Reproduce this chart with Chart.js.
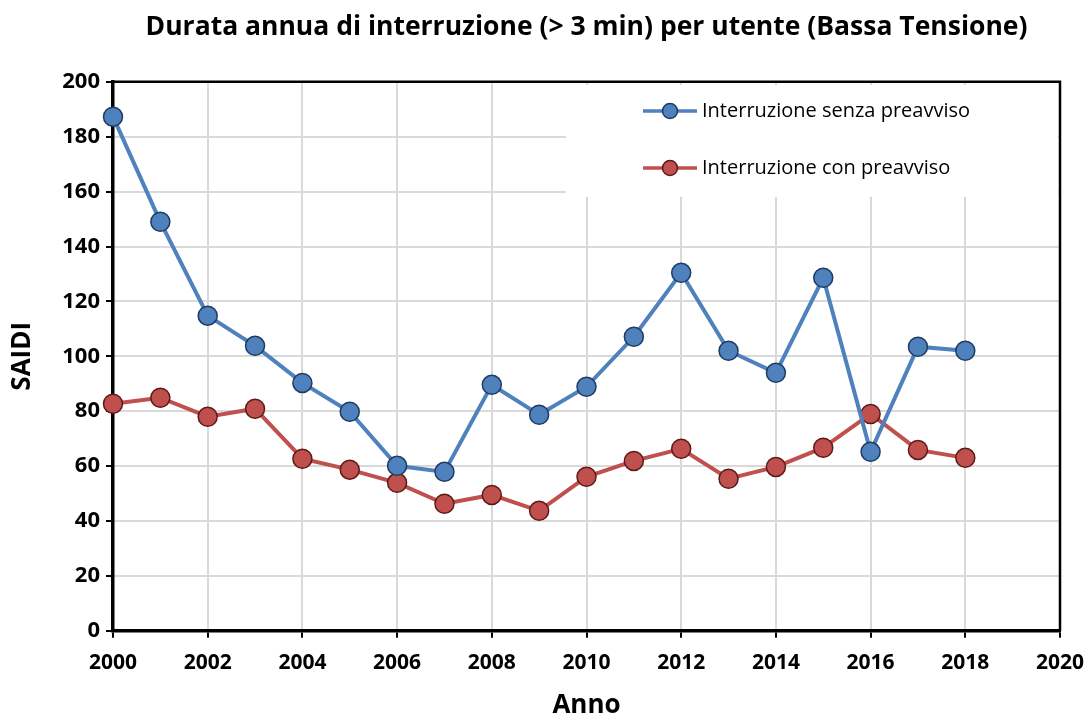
<!DOCTYPE html>
<html lang="it">
<head>
  <meta charset="UTF-8">
  <title>SAIDI Bassa Tensione</title>
  <style>
    body { margin: 0; background: #fff; }
    .wrap { width: 1090px; height: 715px; }
  </style>
  <script src="https://cdn.jsdelivr.net/npm/chart.js"></script>
</head>
<body>
  <div class="wrap"><canvas id="saidiChart" width="1090" height="715"></canvas></div>
  <script>
    // data
    const years = [2000, 2001, 2002, 2003, 2004, 2005, 2006, 2007, 2008, 2009,
                   2010, 2011, 2012, 2013, 2014, 2015, 2016, 2017, 2018];
    const senzaPreavviso = [187.3, 149, 114.8, 103.8, 90.3, 79.8, 60.1, 57.9, 89.6, 78.7,
                            88.9, 107.1, 130.4, 102, 94, 128.6, 65.2, 103.5, 102];
    const conPreavviso = [82.7, 84.9, 78, 80.9, 62.7, 58.7, 53.9, 46.3, 49.5, 43.7,
                          56.1, 61.9, 66.3, 55.4, 59.7, 66.7, 79, 65.9, 63];
    const seriesNames = ['Interruzione senza preavviso', 'Interruzione con preavviso'];

    const font = "'Open Sans', sans-serif";

    function toPoints(vals) {
      return years.map((y, i) => ({ x: y, y: vals[i] }));
    }

    // frame + legend box drawn on top of the grid
    const framePlugin = {
      id: 'frame',
      afterDatasetsDraw(chart) {
        const ctx = chart.ctx;
        const a = chart.chartArea;
        ctx.save();
        // legend box
        ctx.fillStyle = '#fff';
        ctx.fillRect(566, a.top + 3, a.right - 568, 112);
        chart.data.datasets.forEach((ds, i) => {
          const y = 111 + i * 57;
          ctx.strokeStyle = ds.borderColor;
          ctx.lineWidth = 3.5;
          ctx.beginPath();
          ctx.moveTo(643, y);
          ctx.lineTo(697, y);
          ctx.stroke();
          ctx.beginPath();
          ctx.arc(670, y, 7.5, 0, Math.PI * 2);
          ctx.fillStyle = ds.pointBackgroundColor;
          ctx.fill();
          ctx.lineWidth = 1.5;
          ctx.strokeStyle = ds.pointBorderColor;
          ctx.stroke();
          ctx.fillStyle = '#000';
          ctx.font = "20px " + font;
          ctx.textBaseline = 'middle';
          ctx.fillText(ds.label, 702, y);
        });
        // top and right border
        ctx.strokeStyle = '#000';
        ctx.lineWidth = 2.5;
        ctx.beginPath();
        ctx.moveTo(a.left, a.top);
        ctx.lineTo(a.right, a.top);
        ctx.lineTo(a.right, a.bottom);
        ctx.stroke();
        ctx.restore();
      }
    };

    new Chart(document.getElementById('saidiChart'), {
      type: 'line',
      data: {
        datasets: [{
          label: seriesNames[0],
          data: toPoints(senzaPreavviso),
          borderColor: '#4f81bd',
          borderWidth: 4,
          pointBackgroundColor: '#4f81bd',
          pointBorderColor: '#1f3b63',
          pointBorderWidth: 1.5,
          pointRadius: 9.5,
          tension: 0
        }, {
          label: seriesNames[1],
          data: toPoints(conPreavviso),
          borderColor: '#c0504d',
          borderWidth: 4,
          pointBackgroundColor: '#c0504d',
          pointBorderColor: '#5e1a18',
          pointBorderWidth: 1.5,
          pointRadius: 9.5,
          tension: 0
        }]
      },
      options: {
        responsive: false,
        animation: false,
        clip: false,
        layout: { padding: { top: 12, right: 30, left: 10, bottom: -4 } },
        plugins: {
          legend: { display: false },
          tooltip: { enabled: false },
          title: {
            display: true,
            fullSize: false,
            text: 'Durata annua di interruzione (> 3 min) per utente (Bassa Tensione)',
            color: '#000',
            font: { family: font, size: 26.5, weight: 'bold' },
            padding: { top: 0, bottom: 38 }
          }
        },
        scales: {
          x: {
            type: 'linear',
            min: 2000,
            max: 2020,
            ticks: {
              stepSize: 2,
              color: '#000',
              font: { family: font, size: 21, weight: 'bold' },
              padding: 13,
              maxRotation: 0,
              callback: v => String(v)
            },
            grid: { color: '#d9d9d9', lineWidth: 2, tickLength: 7, tickColor: '#000', tickWidth: 2 },
            border: { color: '#000', width: 3.5 },
            title: {
              display: true,
              text: 'Anno',
              color: '#000',
              font: { family: font, size: 26, weight: 'bold', lineHeight: 1 },
              padding: { top: 4, bottom: 0 }
            },
            afterFit(scale) { scale.paddingRight = 0; scale.paddingLeft = 0; }
          },
          y: {
            min: 0,
            max: 200,
            ticks: {
              stepSize: 20,
              color: '#000',
              font: { family: font, size: 22, weight: 'bold' },
              padding: 6
            },
            grid: { color: '#d9d9d9', lineWidth: 2, tickLength: 7, tickColor: '#000', tickWidth: 2 },
            border: { color: '#000', width: 3.5 },
            title: {
              display: true,
              text: 'SAIDI',
              color: '#000',
              font: { family: font, size: 26, weight: 'bold', lineHeight: 1 },
              padding: { top: 0, bottom: 0 }
            },
            afterFit(scale) { scale.width = 103; }
          }
        }
      },
      plugins: [framePlugin]
    });
  </script>
</body>
</html>
